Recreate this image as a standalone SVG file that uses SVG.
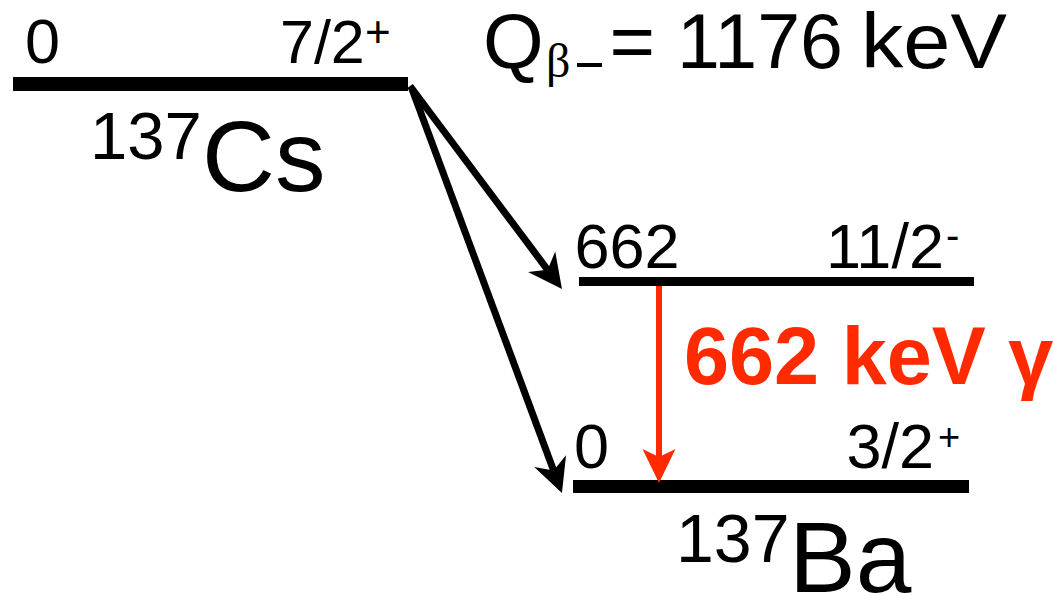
<svg xmlns="http://www.w3.org/2000/svg" width="1053" height="596" viewBox="0 0 1053 596">
<defs>
<style>
.t{font-family:"Liberation Sans",Arial,sans-serif;fill:#000}
.lv{fill:#000}
.con{stroke:#000;stroke-width:7;fill:none}
.red{stroke:#ff2a00;stroke-width:6;fill:none}
</style>
<marker id="ah" markerUnits="userSpaceOnUse" markerWidth="36" markerHeight="36" refX="10" refY="17" orient="auto" viewBox="0 0 36 34">
<path d="M34,17 L0,0 L10,17 L0,34 Z" fill="#000"/>
</marker>
<marker id="ahr" markerUnits="userSpaceOnUse" markerWidth="36" markerHeight="36" refX="8" refY="17" orient="auto" viewBox="0 0 36 34">
<path d="M34,17 L0,0.5 L8,17 L0,33.5 Z" fill="#ff2a00"/>
</marker>
</defs>
<rect width="1053" height="596" fill="#fff"/>
<g id="cs137">
<rect class="lv" x="13" y="77" width="395" height="14"/>
<text class="t" x="25" y="63" font-size="63">0</text>
<text class="t" x="280" y="63" font-size="61">7/2</text>
<text class="t" x="365" y="47" font-size="44">+</text>
<text class="t" x="90" y="159" font-size="67">137</text>
<text class="t" x="202" y="191" font-size="101">Cs</text>
</g>
<g id="qvalue">
<text class="t" x="483" y="68" font-size="78">Q</text>
<text x="546" y="77" font-size="48" fill="#000" font-family="'Liberation Serif','Times New Roman',serif">β</text>
<rect x="577" y="63" width="25" height="4" fill="#000"/>
<text class="t" x="609.5" y="68" font-size="78">=</text>
<text class="t" x="677" y="68" font-size="78" textLength="166" lengthAdjust="spacingAndGlyphs">1176</text>
<text class="t" x="861" y="68" font-size="78" textLength="146" lengthAdjust="spacingAndGlyphs">keV</text>
</g>
<g id="ba662">
<rect class="lv" x="579" y="277" width="395" height="9"/>
<text class="t" x="574.5" y="268" font-size="63">662</text>
<text class="t" x="826" y="268" font-size="63">11/2</text>
<text class="t" x="946" y="249" font-size="40">-</text>
</g>
<g id="ba0">
<rect class="lv" x="573" y="480" width="396" height="13"/>
<text class="t" x="574" y="468" font-size="63">0</text>
<text class="t" x="846.5" y="468" font-size="63">3/2</text>
<text class="t" x="938" y="450" font-size="38">+</text>
<text class="t" x="676" y="562" font-size="68">137</text>
<text class="t" x="789" y="592" font-size="100">Ba</text>
</g>
<g id="connectors">
<line class="con" x1="410" y1="86" x2="547.6" y2="269.8" marker-end="url(#ah)"/>
<line class="con" x1="412" y1="89" x2="553.6" y2="470.5" marker-end="url(#ah)"/>
<line class="red" x1="659" y1="286" x2="659" y2="457" marker-end="url(#ahr)"/>
</g>
<g id="gamma">
<text x="684" y="384" font-size="81" font-weight="bold" fill="#ff2a00" font-family="'Liberation Sans',Arial,sans-serif">662 keV γ</text>
</g>
</svg>
